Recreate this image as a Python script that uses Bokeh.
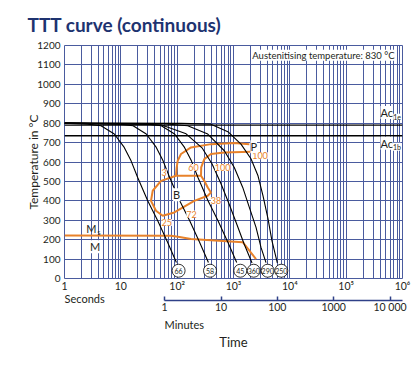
from bokeh.plotting import figure
from bokeh.models import FixedTicker, LogAxis, Range1d, LogScale, Label, Span, Title
from bokeh.core.properties import value
from bokeh.embed import file_html
from bokeh.resources import INLINE

# ---------------- data ----------------
sec_ticks = [1, 10, 100, 1000, 10000, 100000, 1000000]
sec_tick_labels = ["1", "10", "10²", "10³", "10⁴", "10⁵", "10⁶"]
sec_minor = [m * d for d in [1, 10, 100, 1000, 10000, 100000] for m in range(2, 10)]
min_ticks = [1, 10, 100, 1000, 10000]
min_tick_labels = ["1", "10", "100", "1000", "10 000"]
temp_ticks = [0, 100, 200, 300, 400, 500, 600, 700, 800, 900, 1000, 1100, 1200]

ac_temps = [790, 735]

# cooling curves (time in s, temperature in °C)
curve_66_s = [1, 2.57, 4.45, 7.66, 11.5, 15.2, 19.9, 30.0, 45.2, 67.9, 97]
curve_66_c = [800, 795, 787, 744, 675, 606, 520, 400, 297, 185, 82]
curve_58_s = [1, 9.5, 16.5, 28.3, 42.6, 56.2, 73.6, 111, 167, 251, 359]
curve_58_c = [800, 795, 787, 744, 675, 606, 520, 400, 297, 185, 82]
curve_45_s = [1, 30.2, 52.3, 90, 135, 179, 234, 353, 531, 798, 1140]
curve_45_c = [800, 795, 787, 744, 675, 606, 520, 400, 297, 185, 82]
curve_360_s = [1, 51.7, 144, 276, 415, 600, 832, 1153, 1538, 2133]
curve_360_c = [800, 792, 745, 673, 591, 488, 385, 277, 179, 80]
curve_290_s = [1, 50, 154, 349, 687, 1033, 1459, 1910, 2512, 3076, 3776]
curve_290_c = [800, 798, 787, 744, 658, 572, 469, 366, 263, 160, 82]
curve_250_s = [1, 117, 398, 794, 1358, 2042, 2723, 3342, 4093, 4819, 6000]
curve_250_c = [800, 799, 795, 756, 692, 617, 529, 426, 308, 194, 80]

hardness = ["66", "58", "45", "360", "290", "250"]
hardness_s = [106, 383, 1321, 2286, 4046, 7063]
hardness_c = [40, 40, 40, 40, 40, 40]

# transformation lines
ms_s = [1, 78, 110, 176, 1459, 2512]
ms_c = [221, 220, 214, 204, 187, 100]
bainite_s = [95.4, 51.7, 36.8, 34.3, 42.1, 55.4, 89, 201, 349, 398, 349, 303, 265, 95.4]
bainite_c = [529, 503, 452, 400, 349, 323, 340, 400, 426, 443, 469, 503, 529, 529]
pearl_start_s = [95.4, 98, 102, 117, 176, 398, 1033, 1910]
pearl_start_c = [529, 570, 606, 641, 675, 692, 698, 692]
pearl_end_s = [265, 267, 303, 398, 687, 2046]
pearl_end_c = [529, 572, 615, 641, 649, 653]

pct_labels = ["3", "60", "100", "100", "38", "72", "25"]
pct_s = [58.5, 194, 643, 2955, 489, 180, 65]
pct_c = [546, 572, 572, 632, 400, 332, 289]

phase_labels = ["P", "B", "M"]
phase_s = [2285, 98, 3.5]
phase_c = [679, 431, 163]

# ---------------- styling ----------------
FONT = "Lato"
GRID = "#4a5b9e"
ORANGE = "#e8822a"
NAVY = "#1e3370"
TXT = "#231f20"

p = figure(width=411, height=362, x_axis_type="log",
           x_range=Range1d(1, 1e6), y_range=Range1d(0, 1200),
           output_backend="svg", toolbar_location=None,
           min_border_left=64, min_border_right=9, min_border_top=45, min_border_bottom=84)
p.outline_line_color = GRID
p.outline_line_width = 1
p.outline_line_alpha = 1

p.title.text = "TTT curve (continuous)"
p.title.align = "left"
p.title.offset = -37
p.title.text_font = FONT
p.title.text_font_size = "19px"
p.title.text_font_style = "bold"
p.title.text_color = NAVY
p.title.standoff = 20

# main (seconds) axis
xa = p.xaxis[0]
xa.ticker = FixedTicker(ticks=sec_ticks, minor_ticks=sec_minor)
xa.major_label_overrides = dict(zip(sec_ticks, sec_tick_labels))
xa.major_tick_line_color = None
xa.minor_tick_line_color = None
xa.major_tick_out = 0
xa.major_tick_in = 0
xa.minor_tick_out = 0
xa.minor_tick_in = 0
xa.axis_line_color = None
xa.major_label_standoff = 1
xa.major_label_text_font = FONT
xa.major_label_text_font_size = "10.5px"
xa.major_label_text_color = TXT

p.xgrid.grid_line_color = GRID
p.xgrid.grid_line_alpha = 1
p.xgrid.minor_grid_line_color = GRID
p.xgrid.minor_grid_line_alpha = 1

ya = p.yaxis[0]
ya.ticker = FixedTicker(ticks=temp_ticks, minor_ticks=[])
ya.major_tick_line_color = None
ya.minor_tick_line_color = None
ya.major_tick_out = 0
ya.major_tick_in = 0
ya.minor_tick_out = 0
ya.minor_tick_in = 0
ya.axis_line_color = None
ya.major_label_standoff = 4
ya.major_label_text_font = FONT
ya.major_label_text_font_size = "10px"
ya.major_label_text_color = TXT
ya.axis_label = "Temperature in °C"
ya.axis_label_text_font = FONT
ya.axis_label_text_font_size = "12px"
ya.axis_label_text_font_style = "normal"
ya.axis_label_text_color = TXT
ya.axis_label_standoff = -7
p.ygrid.grid_line_color = GRID
p.ygrid.grid_line_alpha = 1


def below_title(text, size, align="left", offset=0, standoff=0, valign="bottom"):
    t = Title(text=text, align=align, offset=offset, text_font=FONT, text_font_size=size,
              text_font_style="normal", text_color=TXT, standoff=standoff,
              vertical_align=valign)
    p.add_layout(t, "below")


below_title("Seconds", "11px", standoff=-9)

# minutes axis
p.extra_x_ranges = {"min": Range1d(1 / 60, 1e6 / 60)}
p.extra_x_scales = {"min": LogScale()}
ma = LogAxis(x_range_name="min",
             ticker=FixedTicker(ticks=min_ticks, minor_ticks=[]),
             bounds=(1, 1e6 / 60))
ma.major_label_overrides = dict(zip(min_ticks, min_tick_labels))
ma.major_tick_in = 4
ma.major_tick_out = 0
ma.minor_tick_in = 0
ma.minor_tick_out = 0
ma.axis_line_color = "#2f4088"
ma.axis_line_width = 1.5
ma.major_tick_line_color = "#2f4088"
ma.major_tick_line_width = 1.5
ma.major_label_standoff = 0
ma.major_label_text_font = FONT
ma.major_label_text_font_size = "10.5px"
ma.major_label_text_color = TXT
p.add_layout(ma, "below")

below_title("Minutes", "11px", offset=100)
below_title("Time", "13px", align="center", offset=0, standoff=3)

# Ac lines
for t in ac_temps:
    p.add_layout(Span(location=t, dimension="width", line_color="black", line_width=1.4))

# orange transformation lines
p.line(ms_s, ms_c, line_color=ORANGE, line_width=2)
p.line(bainite_s, bainite_c, line_color=ORANGE, line_width=2)
p.line(pearl_start_s, pearl_start_c, line_color=ORANGE, line_width=2)
p.line(pearl_end_s, pearl_end_c, line_color=ORANGE, line_width=2)

# cooling curves
for xs, ys in [(curve_66_s, curve_66_c), (curve_58_s, curve_58_c), (curve_45_s, curve_45_c),
               (curve_360_s, curve_360_c), (curve_290_s, curve_290_c), (curve_250_s, curve_250_c)]:
    p.line(xs, ys, line_color="black", line_width=1.1)

# hardness circles
p.scatter(hardness_s, hardness_c, marker="circle", size=13, fill_color="white",
          line_color="black", line_width=0.8)
p.text(x=hardness_s, y=hardness_c, text=hardness, text_font=value(FONT), text_font_size="7px",
       text_align="center", text_baseline="middle", text_color=TXT)


def lab(x, y, text, size="10px", color=TXT, align="center", bg=None, style="normal", baseline="middle"):
    kw = dict(x=x, y=y, text=text, text_font=FONT, text_font_size=size, text_color=color,
              text_align=align, text_baseline=baseline, text_font_style=style)
    if bg:
        kw.update(background_fill_color=bg, background_fill_alpha=1)
    p.add_layout(Label(**kw))


for t, xs, ys in zip(pct_labels, pct_s, pct_c):
    lab(xs, ys, t, size="9px", color=ORANGE, bg="white")
for t, xs, ys in zip(phase_labels, phase_s, phase_c):
    lab(xs, ys, t, size="11px", bg="white")

# M_s label
lab(3.0, 256, "M", size="11px")
lab(4.1, 238, "s", size="7px")

# Ac labels
lab(679000, 855, "Ac", size="11px", align="right", bg="white")
lab(940000, 833, "1e", size="7px", align="right", bg="white")
lab(679000, 697, "Ac", size="11px", align="right", bg="white")
lab(940000, 678, "1b", size="7px", align="right", bg="white")

lab(722000, 1150, "Austenitising temperature: 830 °C", size="9.5px", align="right", bg="white")

open("out.html", "w").write(file_html(p, INLINE))
